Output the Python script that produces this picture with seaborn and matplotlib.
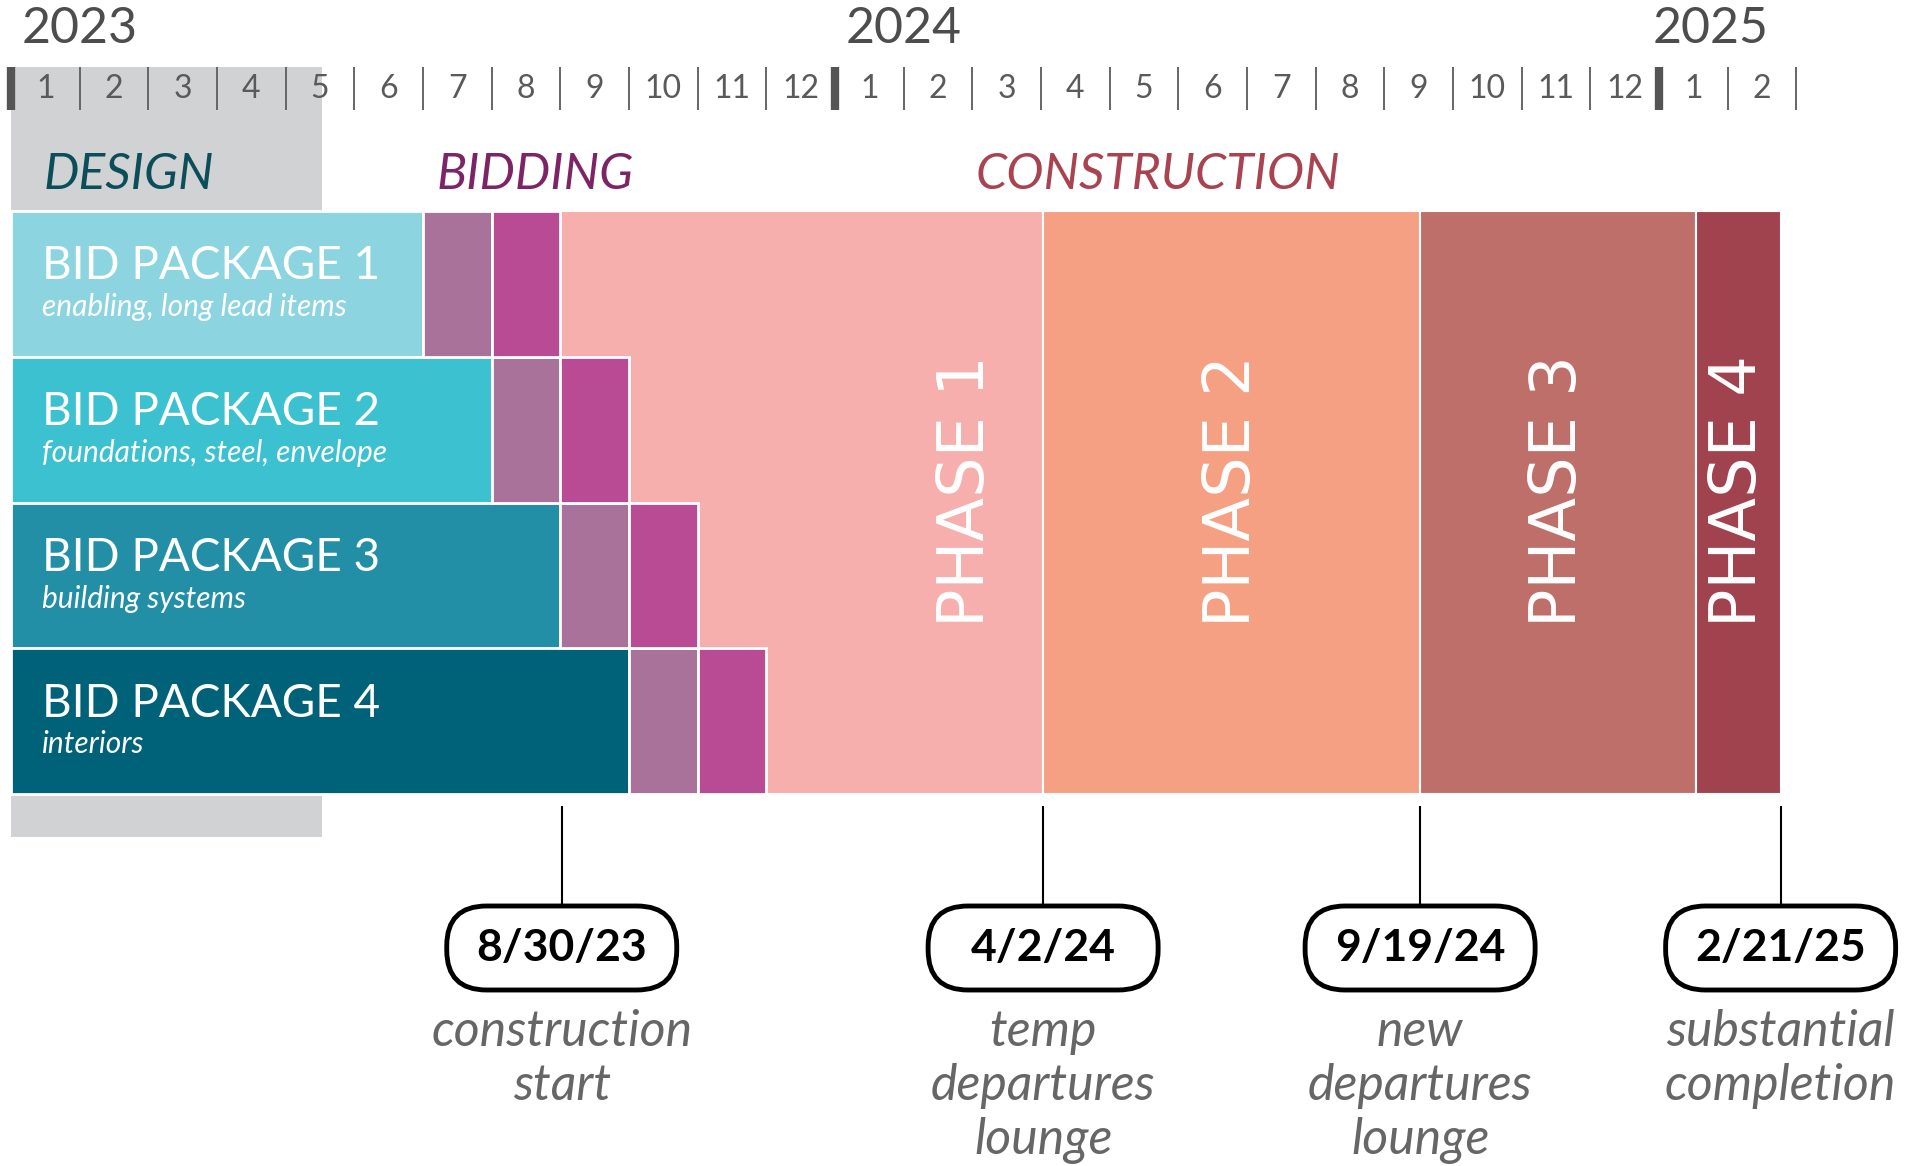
import numpy as np
import pandas as pd
import matplotlib
matplotlib.use('Agg')
import matplotlib.pyplot as plt
from matplotlib.patches import FancyBboxPatch
import seaborn as sns

# Data (x values are months counted from Jan 1, 2023)
packages = ['BID PACKAGE 1', 'BID PACKAGE 2', 'BID PACKAGE 3', 'BID PACKAGE 4']
package_scope = ['enabling, long lead items', 'foundations, steel, envelope',
                 'building systems', 'interiors']
design_end = [6, 7, 8, 9]
bid_prep = [1, 1, 1, 1]
bid_award = [1, 1, 1, 1]
design_phase_end = 4.53

phases = ['PHASE 1', 'PHASE 2', 'PHASE 3', 'PHASE 4']
phase_start = [7.97, 15.03, 20.52, 24.54]
phase_end = [15.03, 20.52, 24.54, 25.77]

milestone_x = [8.02, 15.03, 20.52, 25.77]
milestone_dates = ['8/30/23', '4/2/24', '9/19/24', '2/21/25']
milestone_notes = ['construction\nstart', 'temp\ndepartures\nlounge',
                   'new\ndepartures\nlounge', 'substantial\ncompletion']

years = ['2023', '2024', '2025']
month_labels = [str(m) for m in range(1, 13)] * 2 + ['1', '2']

# Colours
blue_colors = ['#8dd4e1', '#3bc1cf', '#238fa6', '#006278']
phase_colors = ['#f7afad', '#f5a083', '#bf6f69', '#a1434e']
MAUVE = '#a8729b'
MAGENTA = '#b94b95'
GRAY = '#d1d2d4'

sns.set_theme(style='white')
plt.rcParams['font.family'] = ['Lato', 'DejaVu Sans']

# layout in pixels
W, H = 1921, 1166
PX_MONTH = 68.67
PX_ROW = 145.75
X0, ROW_TOP = 11, 211


def ry(px):
    # pixel height -> row units (row i is centred on i)
    return (px - ROW_TOP) / PX_ROW - 0.5


fig = plt.figure(figsize=(W / 100, H / 100), dpi=100)
ax = fig.add_axes([0, 0, 1, 1])

# design background
g_top, g_bot = ry(67), ry(837)
ax.barh((g_top + g_bot) / 2, design_phase_end, left=0, height=g_bot - g_top,
        color=GRAY, linewidth=0, zorder=0)

# construction phases
for s, e, c in zip(phase_start, phase_end, phase_colors):
    ax.barh(1.5, e - s, left=s, height=4, color=c, edgecolor='white',
            linewidth=1.5, zorder=1)

# bid packages - design
df = pd.DataFrame({'package': packages, 'row': range(len(packages)),
                   'design_end': design_end})
sns.barplot(data=df, x='design_end', y='row', hue='package', orient='h',
            palette=dict(zip(packages, blue_colors)), native_scale=True,
            dodge=False, width=1, errorbar=None, saturation=1,
            edgecolor='white', linewidth=2, legend=False, ax=ax, zorder=3)

# bidding segments
rows = np.arange(len(packages))
left1 = np.array(design_end)
ax.barh(rows, bid_prep, left=left1, height=1, color=MAUVE,
        edgecolor='white', linewidth=2, zorder=3)
left2 = left1 + np.array(bid_prep)
ax.barh(rows, bid_award, left=left2, height=1, color=MAGENTA,
        edgecolor='white', linewidth=2, zorder=3)

for i, (name, scope) in enumerate(zip(packages, package_scope)):
    ax.text(0.45, i - 0.12, name, color='white', fontsize=33,
            ha='left', va='center', zorder=5)
    ax.text(0.45, i + 0.16, scope, color='white', fontsize=21.5,
            style='italic', ha='left', va='center', zorder=5)

# phase labels
label_x = [(s + e) / 2 for s, e in zip(phase_start, phase_end)]
label_x[0] = phase_end[0] - 1.12
for x, name in zip(label_x, phases):
    ax.text(x, ry(491), name, rotation=90, color='white', fontsize=46,
            family='DejaVu Sans', ha='center', va='center', zorder=5)

# section headers
ax.text(0.48, ry(175), 'DESIGN', color='#0b4e5a', fontsize=36, style='italic',
        ha='left', va='center', zorder=5)
ax.text(6.2, ry(175), 'BIDDING', color='#7d2466', fontsize=36, style='italic',
        ha='left', va='center', zorder=5)
ax.text(14.05, ry(175), 'CONSTRUCTION', color='#a8434f', fontsize=36,
        style='italic', ha='left', va='center', zorder=5)

# month ruler
t_top, t_bot = ry(67), ry(110)
for m in range(len(month_labels) + 1):
    if m % 12 == 0:
        ax.vlines(m, t_top, t_bot, color='#555555', linewidth=6, zorder=4)
    else:
        ax.vlines(m, t_top, t_bot, color='#666666', linewidth=1.4, zorder=4)
for m, lab in enumerate(month_labels):
    ax.text(m + 0.5, ry(89), lab, color='#5a5a5a', fontsize=23,
            ha='center', va='center', zorder=5)
for x, yr in zip([1.0, 13.0, 24.75], years):
    ax.text(x, ry(29), yr, color='#4d4d4d', fontsize=36,
            ha='center', va='center', zorder=5)

# milestones
ax.vlines(milestone_x, ry(806), ry(906), color='black', linewidth=1.5)
bw, bh = 230 / PX_MONTH, 84 / PX_ROW
yc = ry(948)
for x, d, note in zip(milestone_x, milestone_dates, milestone_notes):
    box = FancyBboxPatch((x - bw / 2, yc - bh / 2), bw, bh,
                         boxstyle='round,pad=0,rounding_size=0.58',
                         mutation_aspect=PX_MONTH / PX_ROW,
                         facecolor='white', edgecolor='black', linewidth=3.5,
                         zorder=4)
    ax.add_patch(box)
    ax.text(x, yc, d, ha='center', va='center', fontsize=32,
            fontweight='bold', color='black', zorder=5)
    ax.text(x, ry(1009), note, ha='center', va='top', fontsize=36,
            style='italic', color='#666666', linespacing=1.22, zorder=5)

ax.set_xlim(-X0 / PX_MONTH, (W - X0) / PX_MONTH)
ax.set_ylim(ry(H), ry(0))
ax.axis('off')

fig.savefig('out.png', dpi=100)
